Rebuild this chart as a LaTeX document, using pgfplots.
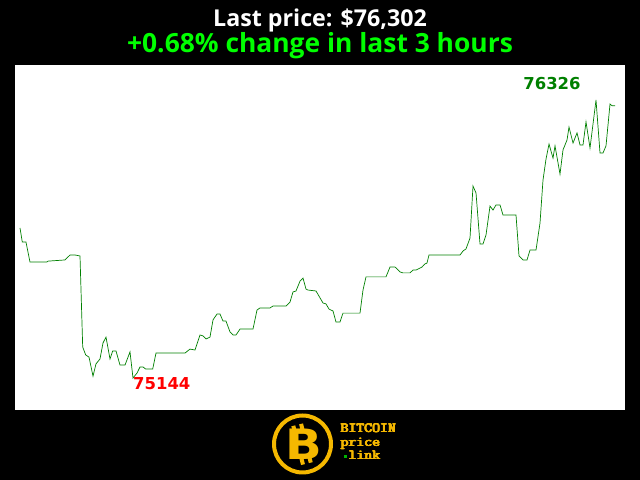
\documentclass[border=0pt]{standalone}
\usepackage{pgfplots}
\pgfplotsset{compat=1.18}
\usepackage{fontspec}
\setmainfont{Open Sans}
\newfontfamily\djv{DejaVu Sans}
\definecolor{lgreen}{RGB}{0,255,0}
\definecolor{dgreen}{RGB}{0,128,0}
\definecolor{btc}{RGB}{245,184,0}
\newcommand{\logotext}[3]{%
  \foreach \dx/\dy in {0/0,0.45/0,0.9/0,0/0.35,0.45/0.35,0.9/0.35}{%
    \node[btc,font=\ttfamily\fontsize{14}{14}\selectfont,xscale=1.1,anchor=base west,inner sep=0pt] at (#1+\dx,#2+\dy) {#3};}}
\begin{document}
\begin{tikzpicture}[x=1bp,y=1bp]
\fill[black] (0,0) rectangle (640,480);
\begin{axis}[at={(15bp,70bp)},anchor=south west,scale only axis,
  width=610bp,height=345bp,
  xmin=15,xmax=625,ymin=75008,ymax=76475,
  axis line style={draw=none},ticks=none,
  axis background/.style={fill=white},clip=false]
\addplot[dgreen,line width=0.7bp] coordinates {
(20,75782)(22.3,75722)(26,75722)(30,75637)(46.7,75637)(48,75641)(65,75646)(70,75667)(75,75667)(80,75663)
(82.7,75276)(85.7,75242)(89,75233)(93,75152)(96,75204)(100,75225)(103,75293)(106,75318)(110,75225)(112.7,75259)
(116,75259)(120,75199)(125,75199)(130,75255)(133,75144)(137,75165)(140,75191)(143,75191)(145.7,75182)(152.7,75182)
(156,75250)(185,75250)(190,75267)(195,75263)(200,75327)(203,75323)(206,75310)(210,75318)(213,75391)(217,75416)
(220,75416)(223,75386)(226,75386)(230,75340)(233,75327)(236,75327)(240,75352)(253,75352)(257,75433)(260,75442)
(270,75442)(273,75450)(286,75450)(290,75467)(293,75510)(296,75514)(300,75556)(303,75569)(306,75522)(308,75518)
(316,75514)(323,75463)(326,75459)(329,75437)(333,75429)(336,75382)(340,75382)(343,75420)(360,75420)(363,75518)
(366,75574)(386,75574)(390,75616)(395,75616)(400,75595)(403,75591)(410,75591)(413,75603)(416,75603)(422,75616)
(425,75629)(427,75633)(429,75667)(460,75667)(463,75684)(466,75693)(470,75739)(473,75960)(476,75931)(480,75714)
(483,75714)(486,75752)(490,75875)(493,75858)(496,75880)(500,75880)(503,75837)(516,75837)(519,75663)(523,75646)
(527,75646)(530,75688)(536,75688)(540,75803)(543,75986)(546,76075)(549,76139)(553,76079)(555,76131)(560,76011)
(563,76114)(567,76156)(569,76211)(573,76143)(577,76186)(580,76135)(583,76135)(586,76233)(590,76122)(596,76326)
(600,76101)(603,76101)(606,76131)(610,76309)(612,76302)(615,76302)
};
\node[text=dgreen,font=\djv\bfseries\fontsize{16.5}{18}\selectfont,anchor=center] at (axis cs:552,76326) [yshift=17bp] {76326};
\node[text=red,font=\djv\bfseries\fontsize{16.5}{18}\selectfont,anchor=west,inner sep=0pt] at (axis cs:133,75144) [yshift=-6bp] {75144};
\end{axis}
\node[white,font=\bfseries\fontsize{23.3}{25}\selectfont,anchor=base] at (320,453) {Last price: \$76,302};
\node[lgreen,font=\bfseries\fontsize{26.5}{28}\selectfont,anchor=base] at (320,427.5) {+0.68\% change in last 3 hours};
% logo
\draw[btc,line width=4bp] (302.5,36) circle (28.5);
\begin{scope}[rotate around={14:(303,36)}]
\node[btc,font=\djv\bfseries\fontsize{42}{42}\selectfont,xscale=1.15,inner sep=0pt] at (304,36) {B};
\fill[btc] (296,50) rectangle (300,56);
\fill[btc] (304,50) rectangle (308,56);
\fill[btc] (296,16) rectangle (300,22);
\fill[btc] (304,16) rectangle (308,22);
\end{scope}
\logotext{340}{47.3}{BITCOIN}
\logotext{340}{33}{price}
\logotext{348}{20}{link}
\fill[lgreen!70!black] (343.5,21.5) rectangle (346.5,24.5);
\end{tikzpicture}
\end{document}
